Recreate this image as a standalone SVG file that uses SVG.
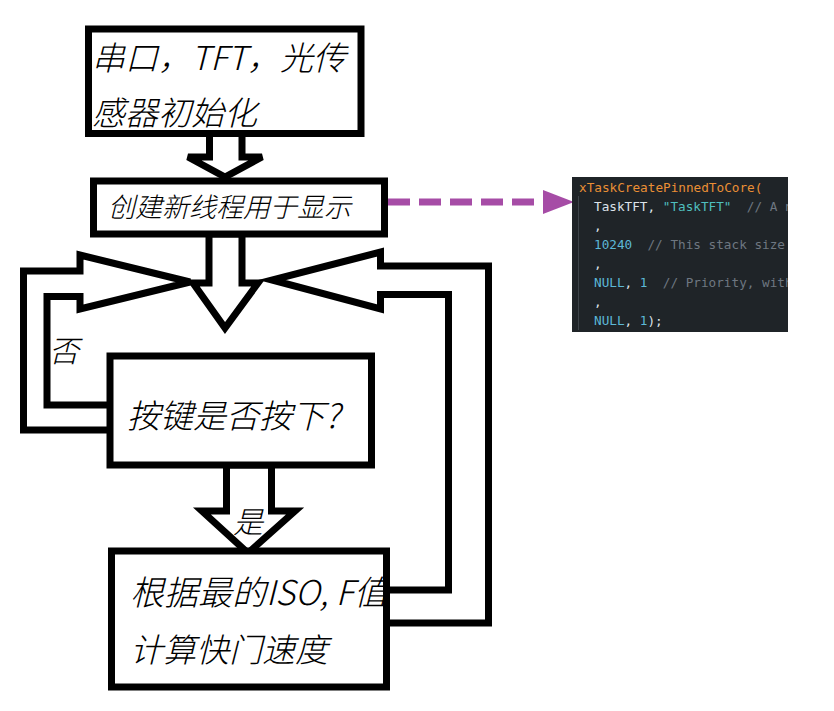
<svg xmlns="http://www.w3.org/2000/svg" width="834" height="711" viewBox="0 0 834 711">
<style>
.box{fill:#fff;stroke:#000;stroke-width:7}
.arr{fill:#fff;stroke:#000;stroke-width:7;stroke-linejoin:miter}
.loop{fill:none;stroke:#000;stroke-width:7;stroke-linejoin:miter}
.t{font-family:"Noto Sans CJK SC","Liberation Sans",sans-serif;font-style:italic;font-weight:300;fill:#000}
.code{font-family:"DejaVu Sans Mono","Liberation Mono",monospace;font-size:12.7px;fill:#dde3ea;white-space:pre}
.or{fill:#ea8f35}.st{fill:#4fbfbf}.nm{fill:#5cb8d6}.cm{fill:#6e7781}
</style>
<defs>
<clipPath id="c4"><rect x="115" y="555" width="268" height="128"/></clipPath>
<clipPath id="cc"><rect x="572" y="177" width="216" height="155"/></clipPath>
</defs>
<rect width="834" height="711" fill="#fff"/>

<g id="connectors">
<polygon class="arr" points="209.5,133 209.5,157 188,157 225,177 262,157 242,157 242,133"/>
<polyline class="loop" points="110,430 23.5,430 23.5,271 80,271 80,255 190,282 80,309 80,296.5 47,296.5 47,405 110,405"/>
<polyline class="loop" points="386,590 448.5,590 448.5,294.5 380.5,294.5 380.5,309 272,280 380.5,252 380.5,266 488.5,266 488.5,623 386,623"/>
<polygon class="arr" points="209,234 209,283 193,283 225,328 258,283 242,283 242,234"/>
<polygon class="arr" points="226.5,465 226.5,511 202,511 248,553 295,511 271.5,511 271.5,465"/>
<line x1="388" y1="202" x2="546" y2="202" stroke="#a64ca6" stroke-width="7" stroke-dasharray="22 9"/>
<polygon points="543,190 574,202 543,214" fill="#a64ca6"/>
</g>

<g id="init">
<rect class="box" x="88.5" y="29" width="272.5" height="104.5"/>
<text class="t" x="92" y="70" font-size="33">串口，TFT，光传</text>
<text class="t" x="92" y="125" font-size="33">感器初始化</text>
</g>

<g id="thread">
<rect class="box" x="93.5" y="181" width="291" height="53" stroke-width="6"/>
<text class="t" x="108" y="217" font-size="27">创建新线程用于显示</text>
</g>

<g id="decision">
<rect class="box" x="110" y="356" width="261.5" height="109"/>
<text class="t" x="127" y="428" font-size="33">按键是否按下?</text>
</g>

<g id="labels">
<text class="t" x="49" y="362" font-size="30">否</text>
<text class="t" x="233" y="533" font-size="30">是</text>
</g>

<g id="compute">
<rect class="box" x="111.5" y="551" width="275" height="136"/>
<g clip-path="url(#c4)">
<text class="t" x="130" y="605" font-size="34">根据最的ISO, F值</text>
</g>
<text class="t" x="130" y="662" font-size="33">计算快门速度</text>
</g>

<g id="code" xml:space="preserve">
<rect x="572" y="177" width="216" height="155" fill="#1f2428"/>
<line x1="578.5" y1="196" x2="578.5" y2="330" stroke="#3d4349" stroke-width="1"/>
<g clip-path="url(#cc)">
<text class="code" x="579" y="192"><tspan class="or">xTaskCreatePinnedToCore(</tspan></text>
<text class="code" x="594" y="211">TaskTFT, <tspan class="st">"TaskTFT"</tspan><tspan class="cm">  // A new</tspan></text>
<text class="code" x="594" y="230">,</text>
<text class="code" x="594" y="249"><tspan class="nm">10240</tspan><tspan class="cm">  // This stack size</tspan></text>
<text class="code" x="594" y="268">,</text>
<text class="code" x="594" y="287"><tspan class="nm">NULL</tspan>, <tspan class="nm">1</tspan><tspan class="cm">  // Priority, with</tspan></text>
<text class="code" x="594" y="306">,</text>
<text class="code" x="594" y="325"><tspan class="nm">NULL</tspan>, <tspan class="nm">1</tspan>);</text>
</g>
</g>
</svg>
